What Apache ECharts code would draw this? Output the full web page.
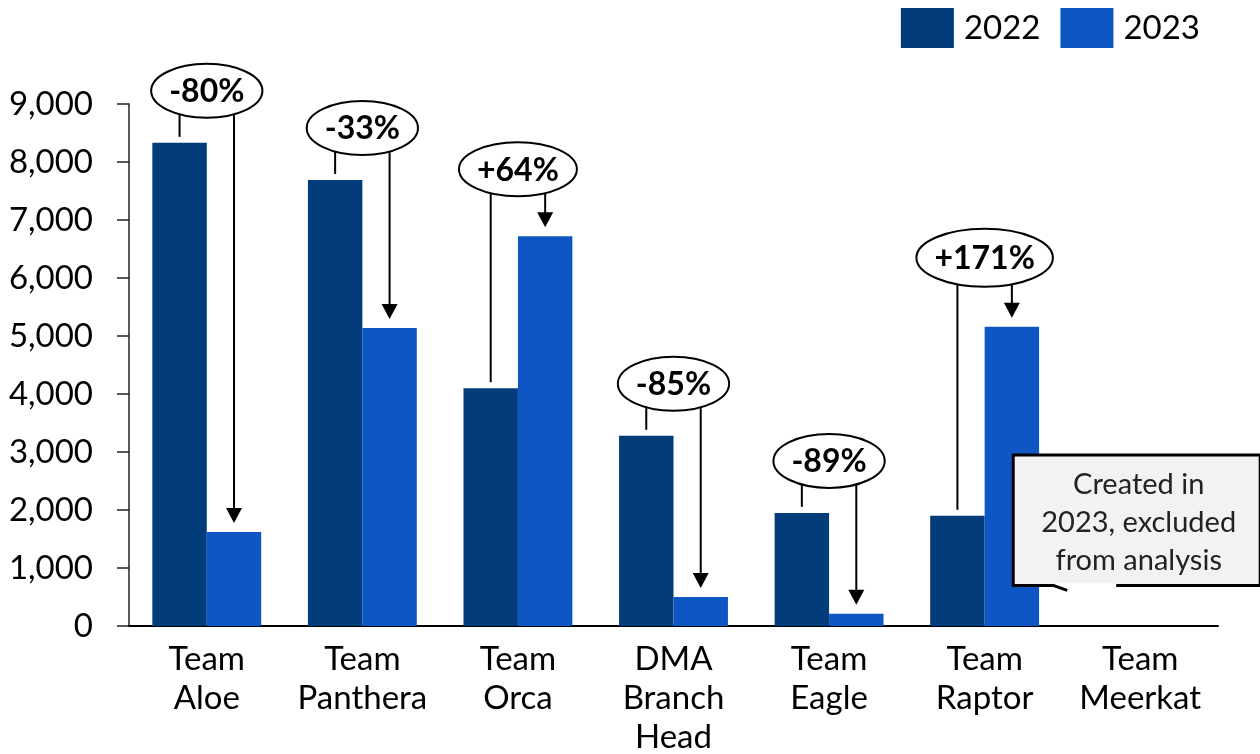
<!DOCTYPE html>
<html>
<head>
<meta charset="utf-8">
<script src="https://cdn.jsdelivr.net/npm/echarts@6/dist/echarts.min.js"></script>
<style>
html,body{margin:0;padding:0;background:#fff;}
#chart{width:1260px;height:754px;}
</style>
</head>
<body>
<div id="chart"></div>
<script>
const categories = ['Team\nAloe', 'Team\nPanthera', 'Team\nOrca', 'DMA\nBranch\nHead', 'Team\nEagle', 'Team\nRaptor', 'Team\nMeerkat'];
const values2022 = [8330, 7690, 4100, 3280, 1950, 1900, null];
const values2023 = [1620, 5140, 6720, 500, 210, 5160, null];
const changeLabels = ['-80%', '-33%', '+64%', '-85%', '-89%', '+171%', null];
const yTickLabels = ['0', '1,000', '2,000', '3,000', '4,000', '5,000', '6,000', '7,000', '8,000', '9,000'];
const seriesNames = ['2022', '2023'];
const noteText = 'Created in\n2023, excluded\nfrom analysis';

const FONT = 'Lato, "Noto Sans", sans-serif';
const chart = echarts.init(document.getElementById('chart'));

chart.setOption({
  animation: false,
  backgroundColor: '#ffffff',
  legend: {
    top: 3, right: 55,
    itemWidth: 53, itemHeight: 40, itemGap: 20,
    icon: 'rect',
    textStyle: {fontFamily: FONT, fontSize: 33, color: '#000', padding: [0, 0, 0, 5]},
    data: seriesNames
  },
  grid: {left: 129, right: 42, top: 104, bottom: 128, outerBoundsMode: 'none', containLabel: false},
  xAxis: {
    type: 'category',
    data: categories,
    axisLine: {lineStyle: {color: '#000', width: 2}},
    axisTick: {show: false},
    axisLabel: {
      fontFamily: FONT, fontSize: 33, color: '#000', lineHeight: 39, margin: 14, interval: 0
    }
  },
  yAxis: {
    type: 'value',
    min: 0, max: 9000, interval: 1000,
    splitLine: {show: false},
    axisLine: {show: true, lineStyle: {color: '#222', width: 1.5}},
    axisTick: {show: true, length: 12, lineStyle: {color: '#222', width: 1.5}},
    axisLabel: {
      fontFamily: FONT, fontSize: 33, color: '#000', margin: 36,
      formatter: v => yTickLabels[Math.round(v / 1000)]
    }
  },
  series: [
    {name: seriesNames[0], type: 'bar', data: values2022, barWidth: '35%', barGap: '0%',
     itemStyle: {color: '#033C7B'}},
    {name: seriesNames[1], type: 'bar', data: values2023, barWidth: '35%', barGap: '0%',
     itemStyle: {color: '#0E56C3'}}
  ]
});

function buildGraphics() {
  const g = [];
  const px = (i, v) => chart.convertToPixel({gridIndex: 0}, [i, v]);
  const catW = px(1, 0)[0] - px(0, 0)[0];
  const bw = catW * 0.35;
  const canvas = document.createElement('canvas');
  const ctx = canvas.getContext('2d');
  const labelFont = 'bold 32px ' + FONT;
  ctx.font = labelFont;

  categories.forEach((c, i) => {
    if (changeLabels[i] == null) return;
    const cx = px(i, 0)[0];
    const xa = cx - bw / 2, xb = cx + bw / 2;
    const ya = px(i, values2022[i])[1];
    const yb = px(i, values2023[i])[1];
    const inc = values2023[i] > values2022[i];
    const top = Math.min(ya, yb);
    const w = ctx.measureText(changeLabels[i]).width;
    const rx = w / 2 + 18;
    const ry = changeLabels[i].length > 4 ? 29 : 27;
    const cy = top - (inc ? 40 : 25) - ry;
    const edgeY = x => cy + ry * Math.sqrt(Math.max(0, 1 - Math.pow((x - cx) / rx, 2)));
    g.push({type: 'line', shape: {x1: xa, y1: edgeY(xa), x2: xa, y2: ya - 6},
            style: {stroke: '#000', lineWidth: 2}, z: 10});
    const tip = yb - 9;
    g.push({type: 'line', shape: {x1: xb, y1: edgeY(xb), x2: xb, y2: tip - 12},
            style: {stroke: '#000', lineWidth: 2}, z: 10});
    g.push({type: 'polygon', shape: {points: [[xb - 8, tip - 15], [xb + 8, tip - 15], [xb, tip]]},
            style: {fill: '#000'}, z: 10});
    g.push({type: 'ellipse', shape: {cx: cx, cy: cy, rx: rx, ry: ry},
            style: {fill: '#fff', stroke: '#000', lineWidth: 2}, z: 11});
    g.push({type: 'text', x: cx, y: cy + 1, z: 12,
            style: {text: changeLabels[i], font: labelFont, fill: '#000', align: 'center', verticalAlign: 'middle'}});
  });

  const mi = categories.length - 1;
  const mcx = px(mi, 0)[0];
  const bTop = px(mi, 2950)[1];
  const bBot = px(mi, 700)[1];
  const bL = mcx - 127, bR = mcx + 120;
  g.push({type: 'rect', shape: {x: bL, y: bTop, width: bR - bL, height: bBot - bTop},
          style: {fill: '#F2F2F2', stroke: '#000', lineWidth: 3}, z: 20});
  g.push({type: 'rect', shape: {x: bL + 41, y: bBot - 2, width: 62, height: px(mi, 0)[1] - bBot - 1},
          style: {fill: '#fff'}, z: 21});
  g.push({type: 'line', shape: {x1: bL + 40, y1: bBot, x2: bL + 54, y2: bBot + 5},
          style: {stroke: '#000', lineWidth: 3}, z: 21});
  g.push({type: 'text', x: (bL + bR) / 2 + 2, y: (bTop + bBot) / 2 + 2, z: 22,
          style: {text: noteText, font: '29px ' + FONT, lineHeight: 38, fill: '#222',
                  align: 'center', verticalAlign: 'middle'}});
  chart.setOption({graphic: {elements: g}});
}
buildGraphics();
</script>
</body>
</html>
